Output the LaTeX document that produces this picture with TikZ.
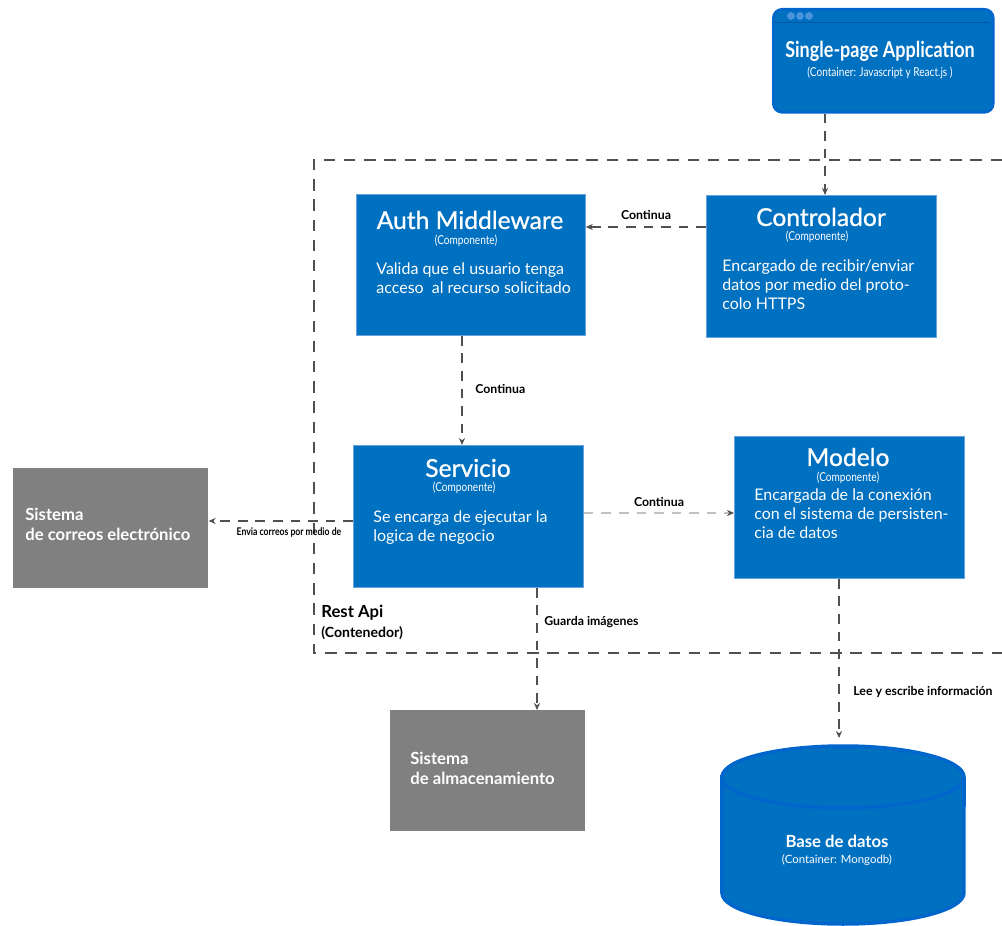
\documentclass[tikz,border=0pt]{standalone}
\usepackage{fontspec}
\setmainfont{Lato}
\newfontfamily\condfont[FakeStretch=0.82]{Lato}
\newfontfamily\titlefont[FakeBold=0.9]{Lato}
\usetikzlibrary{arrows.meta}
\definecolor{compblue}{RGB}{0,112,192}
\definecolor{edgeblue}{RGB}{0,102,204}
\definecolor{extgray}{RGB}{128,128,128}
\definecolor{linegray}{RGB}{80,80,80}
\tikzset{
  comp/.style={rectangle, fill=compblue, draw=edgeblue!60!white, line width=0.5pt, anchor=north west, minimum width=4.6cm, minimum height=2.84cm, inner sep=0},
  extsys/.style={rectangle, fill=extgray, anchor=north west, minimum width=3.9cm, minimum height=2.42cm, inner sep=0},
  ctitle/.style={text=white, font=\titlefont\fontsize{14}{16}\selectfont, inner sep=0},
  csub/.style={text=white, font=\condfont\fontsize{7}{8}\selectfont, inner sep=0},
  cbody/.style={text=white, font=\fontsize{9.1}{11}\selectfont, align=left, anchor=north west, inner sep=0},
  extlabel/.style={text=white, font=\bfseries\fontsize{9.5}{11.3}\selectfont, align=left, anchor=west, inner sep=0},
  rel/.style={dashed, dash pattern=on 5.5pt off 4.5pt, linegray, line width=0.6pt, -{Stealth[length=4pt,width=3.5pt,color=linegray]}},
  rellabel/.style={font=\bfseries\fontsize{7}{8}\selectfont, inner sep=0}
}
\begin{document}
\begin{tikzpicture}[x=0.02cm, y=-0.02cm]
  \useasboundingbox (0,0) rectangle (1002,926);

  % Rest Api container
  \draw[linegray, line width=0.7pt, dash pattern=on 6.5pt off 5pt] (1002,160) -- (314,160) -- (314,653) -- (1002,653);
  \node[font=\fontsize{9.5}{11}\selectfont\bfseries, anchor=west, inner sep=0] (restapi) at (321,613) {Rest Api};
  \node[font=\fontsize{8}{10}\selectfont\bfseries, anchor=west, inner sep=0] (contenedor) at (321,633) {(Contenedor)};

  % Single-page Application
  \node[rectangle, rounded corners=5pt, fill=compblue, draw=edgeblue, line width=1.5pt, anchor=north west, minimum width=4.4cm, minimum height=2.06cm] (spa) at (772,8) {};
  \draw[edgeblue!80!black, line width=0.4pt] (775,22) -- (989,22);
  \foreach \i in {0,1,2}
    \fill[edgeblue!70!white] (791+\i*9,16) circle (2.2pt);
  \node[text=white, font=\condfont\fontsize{12.5}{14}\selectfont\bfseries, inner sep=0] (spatitle) at (880,51) {Single-page Application};
  \node[csub, font=\condfont\fontsize{7}{8}\selectfont] (spasub) at (880,73) {(Container: Javascript y React.js )};

  % Componentes
  \node[comp, minimum width=4.58cm, minimum height=2.82cm] (auth) at (356,194) {};
  \node[ctitle] (authtitle) at (470,220) {Auth Middleware};
  \node[csub] (authsub) at (466,241) {(Componente)};
  \node[cbody] (authbody) at (376,262) {Valida que el usuario tenga\\acceso\ \ al recurso solicitado};

  \node[comp] (ctrl) at (706,195) {};
  \node[ctitle] (ctrltitle) at (821,217) {Controlador};
  \node[csub] (ctrlsub) at (817,237) {(Componente)};
  \node[cbody] (ctrlbody) at (722,259) {Encargado de recibir/enviar\\datos por medio del proto-\\colo HTTPS};

  \node[comp] (serv) at (353,445) {};
  \node[ctitle] (servtitle) at (468,468) {Servicio};
  \node[csub] (servsub) at (464,488) {(Componente)};
  \node[cbody] (servbody) at (373,510) {Se encarga de ejecutar la\\logica de negocio};

  \node[comp] (modelo) at (734,436) {};
  \node[ctitle] (modelotitle) at (848,457) {Modelo};
  \node[csub] (modelosub) at (848,478) {(Componente)};
  \node[cbody] (modelobody) at (754,488) {Encargada de la conexión\\con el sistema de persisten-\\cia de datos};

  % Sistemas externos
  \node[extsys, minimum height=2.4cm] (correo) at (13,468) {};
  \node[extlabel] (correolabel) at (25,524) {Sistema\\de correos electrónico};

  \node[extsys] (almac) at (390,710) {};
  \node[extlabel] (almaclabel) at (410,768) {Sistema\\de almacenamiento};

  % Base de datos
  \fill[compblue, draw=edgeblue, line width=2pt] (722,777) -- (722,893) arc[start angle=180, end angle=360, x radius=2.42cm, y radius=0.62cm] -- (964,777) arc[start angle=0, end angle=180, x radius=2.42cm, y radius=0.62cm] -- cycle;
  \draw[edgeblue, line width=2pt] (722,777) arc[start angle=180, end angle=360, x radius=2.42cm, y radius=0.62cm];
  \node[inner sep=0, minimum width=4.84cm, minimum height=3.6cm] (db) at (843,835) {};
  \coordinate (dbtop) at (839,738);
  \node[text=white, font=\bfseries\fontsize{9.5}{11}\selectfont, inner sep=0] (dbtitle) at (837,841) {Base de datos};
  \node[text=white, font=\fontsize{6.5}{8}\selectfont, inner sep=0] (dbsub) at (837,860) {(Container: Mongodb)};

  % Relaciones
  \draw[rel] (spa.south -| 825,0) -- (ctrl.north -| 825,0);
  \draw[rel] (ctrl.west |- 0,227) -- (auth.east |- 0,227);
  \node[rellabel] (lblcont1) at (646,215) {Continua};
  \draw[rel] (auth.south -| 462,0) -- (serv.north -| 462,0);
  \node[rellabel, anchor=west] (lblcont2) at (475,389) {Continua};
  \draw[rel, draw=linegray!35] (serv.east |- 0,513) -- (modelo.west |- 0,513);
  \node[rellabel] (lblcont3) at (659,502) {Continua};
  \draw[rel] (serv.west |- 0,521) -- (correo.east |- 0,521);
  \node[rellabel, font=\condfont\bfseries\fontsize{6}{7}\selectfont] (lblcorreo) at (289,532) {Envia correos por medio de};
  \draw[rel] (serv.south -| 537,0) -- (almac.north -| 537,0);
  \node[rellabel, anchor=west] (lblalmac) at (544,622) {Guarda imágenes};
  \draw[rel] (modelo.south -| 839,0) -- (dbtop);
  \node[rellabel, anchor=west] (lbldb) at (853,692) {Lee y escribe información};
\end{tikzpicture}
\end{document}
